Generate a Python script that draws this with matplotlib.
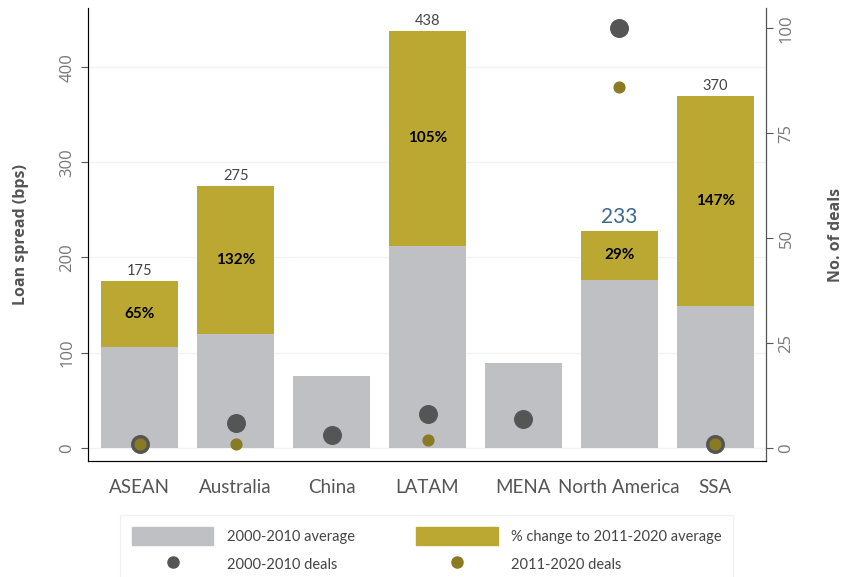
import matplotlib.pyplot as plt
from matplotlib.lines import Line2D
import numpy as np

regions = ["ASEAN", "Australia", "China", "LATAM", "MENA", "North America", "SSA"]
avg_2000_2010 = [106, 119, 75, 212, 89, 176, 149]
avg_2011_2020 = [175, 275, None, 438, None, 228, 370]
total_labels = ["175", "275", "", "438", "", "233", "370"]
pct_labels = ["65%", "132%", "", "105%", "", "29%", "147%"]
deals_2000_2010 = [1, 6, 3, 8, 7, 100, 1]
deals_2011_2020 = [1, 1, None, 2, None, 86, 1]

GRAY = "#bfc0c3"
OLIVE = "#bba833"
DARK = "#555555"
OLIVE_DOT = "#8a7a22"
narrow = ["Lato", "DejaVu Sans"]
wide = ["Open Sans", "DejaVu Sans"]

fig = plt.figure(figsize=(8.43, 5.77), dpi=100)
ax = fig.add_axes([0.1044, 0.201, 0.9087 - 0.1044, 0.986 - 0.201])
x = np.arange(len(regions))
w = 0.8

ax.bar(x, avg_2000_2010, w, color=GRAY, zorder=2)
chg = [(t - b) if t is not None else 0 for t, b in zip(avg_2011_2020, avg_2000_2010)]
ax.bar(x, chg, w, bottom=avg_2000_2010, color=OLIVE, zorder=2)

for i in range(len(regions)):
    if avg_2011_2020[i] is None:
        continue
    top = avg_2011_2020[i]
    if regions[i] == "North America":
        ax.text(x[i], top + 4, total_labels[i], ha="center", va="bottom",
                fontsize=15, color="#3d6a8a", family=narrow)
    else:
        ax.text(x[i], top + 3, total_labels[i], ha="center", va="bottom",
                fontsize=10.5, color="#444444", family=narrow)
    ax.text(x[i], (top + avg_2000_2010[i]) / 2, pct_labels[i], ha="center",
            va="center", fontsize=11, fontweight="bold", color="black", family=narrow)

ax.set_xlim(-0.54, 6.53)
ax.set_ylim(-14, 462)
ax.set_yticks([0, 100, 200, 300, 400])
ax.set_xticks(x)
ax.set_xticklabels(regions, family=narrow, fontsize=13.5, color="#555555")
ax.tick_params(axis="x", length=0, pad=13)
ax.tick_params(axis="y", colors="#555555", length=5, pad=4)
for lab in ax.get_yticklabels():
    lab.set_rotation(90)
    lab.set_va("center")
    lab.set_color("#777777")
    lab.set_family(wide)
    lab.set_fontsize(12)
ax.grid(axis="y", color="#f2f2f2", linewidth=1, zorder=0)
ax.set_ylabel("Loan spread (bps)", fontsize=11.5, fontweight="bold", color="#555555",
              labelpad=22, family=wide)
ax.spines["top"].set_visible(False)
for s in ["left", "bottom"]:
    ax.spines[s].set_color("#555555")

ax2 = ax.twinx()
ax2.set_ylim(-3.1, 104.8)
ax2.set_yticks([0, 25, 50, 75, 100])
ax2.tick_params(axis="y", colors="#555555", length=5, pad=4)
for lab in ax2.get_yticklabels():
    lab.set_rotation(90)
    lab.set_va("center")
    lab.set_color("#777777")
    lab.set_family(wide)
    lab.set_fontsize(12)
ax2.spines["top"].set_visible(False)
ax2.spines["right"].set_color("#555555")
ax2.set_ylabel("No. of deals", fontsize=11.5, fontweight="bold", color="#555555",
               labelpad=24, family=wide)

d1x = [xi for xi, v in zip(x, deals_2000_2010) if v is not None]
d1y = [v for v in deals_2000_2010 if v is not None]
d2x = [xi for xi, v in zip(x, deals_2011_2020) if v is not None]
d2y = [v for v in deals_2011_2020 if v is not None]
ax2.scatter(d1x, d1y, s=160, color=DARK, zorder=3)
ax2.scatter(d2x, d2y, s=60, color=OLIVE_DOT, zorder=4)

handles = [
    plt.Rectangle((0, 0), 1, 1, color=GRAY),
    Line2D([], [], marker="o", linestyle="none", color=DARK, markersize=8),
    plt.Rectangle((0, 0), 1, 1, color=OLIVE),
    Line2D([], [], marker="o", linestyle="none", color=OLIVE_DOT, markersize=8),
]
labels = ["2000-2010 average", "2000-2010 deals",
          "% change to 2011-2020 average", "2011-2020 deals"]
leg = fig.legend(handles, labels, ncol=2, loc="upper center",
                 bbox_to_anchor=(0.506, 0.107), frameon=True, fancybox=False,
                 handlelength=5.6, handleheight=1.55,
                 handletextpad=0.9, columnspacing=4.2, labelspacing=0.7,
                 borderpad=0.8, borderaxespad=0, edgecolor="#eeeeee",
                 prop={"family": narrow, "size": 10.5})
for t in leg.get_texts():
    t.set_color("#444444")

fig.savefig("out.png", dpi=100)
